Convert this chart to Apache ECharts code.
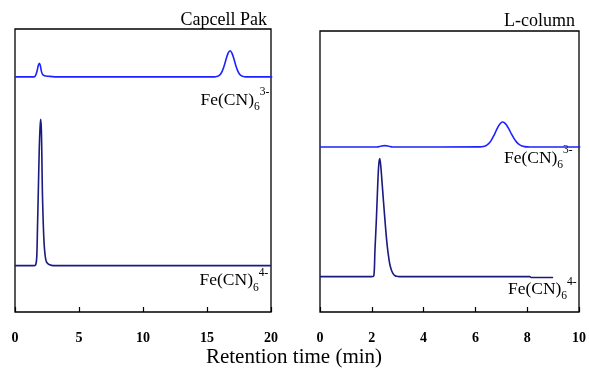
<!DOCTYPE html>
<html>
<head>
<meta charset="utf-8">
<script src="https://cdn.jsdelivr.net/npm/echarts@6/dist/echarts.min.js"></script>
<style>html,body{margin:0;padding:0;background:#fff}#c{width:589px;height:369px}</style>
</head>
<body>
<div id="c"></div>
<script>
// ---- Data (relative detector response, arbitrary units) ----
const panelTitles = ['Capcell Pak', 'L-column'];
const capTicks = [0, 5, 10, 15, 20];
const lcolTicks = [0, 2, 4, 6, 8, 10];
const axisTitle = 'Retention time (min)';
const ionMain = 'Fe(CN)';
const ionSub = '6';
const ionCharges = ['3-', '4-'];

// Capcell Pak, Fe(CN)6 4- (navy)
const capFe4T = [0, 1.5, 1.62, 1.7, 1.76, 1.82, 1.9, 1.96, 2.01, 2.06, 2.1, 2.14, 2.2, 2.26, 2.32, 2.4, 2.5, 2.7, 3, 20];
const capFe4V = [16.4, 16.4, 16.7, 19.4, 30.4, 42.4, 58.4, 65.4, 68.1, 64.4, 54.4, 42.4, 32.4, 25.4, 21.4, 18.6, 17.4, 16.7, 16.4, 16.4];
// Capcell Pak, Fe(CN)6 3- (blue)
const capFe3T = [0, 1.5, 1.6, 1.72, 1.82, 1.9, 1.98, 2.06, 2.16, 2.3, 2.6, 3.1, 15.6, 15.75, 15.9, 16.05, 16.2, 16.35, 16.5, 16.65, 16.8, 16.95, 17.1, 17.25, 17.4, 17.55, 17.7, 17.85, 18.0, 20.1];
const capFe3V = [83.1, 83.1, 83.5, 85.1, 87.1, 87.9, 87.1, 85.1, 83.9, 83.5, 83.3, 83.1, 83.1, 83.2, 83.44, 84.02, 85.21, 87.12, 89.47, 91.49, 92.3, 91.49, 89.47, 87.12, 85.21, 84.02, 83.44, 83.2, 83.1, 83.1];
// L-column, Fe(CN)6 4- (navy)
const lcolFe4T = [0, 2.0, 2.08, 2.12, 2.18, 2.23, 2.27, 2.31, 2.35, 2.4, 2.45, 2.5, 2.55, 2.6, 2.65, 2.7, 2.77, 2.84, 2.9, 2.96, 3.05, 8.1, 8.15, 9.0];
const lcolFe4V = [12.6, 12.6, 12.9, 21.6, 33.6, 45.6, 52.6, 54.6, 51.6, 45.6, 39.5, 33.6, 28.0, 23.2, 19.6, 16.8, 14.6, 13.4, 12.9, 12.7, 12.6, 12.6, 12.3, 12.3];
// L-column, Fe(CN)6 3- (blue)
const lcolFe3T = [0, 2.2, 2.35, 2.5, 2.65, 2.8, 6.2, 6.3, 6.4, 6.5, 6.6, 6.7, 6.8, 6.9, 7.0, 7.05, 7.1, 7.2, 7.3, 7.4, 7.5, 7.6, 7.7, 7.8, 7.9, 8.0, 8.1, 10.05];
const lcolFe3V = [58.7, 58.7, 59.0, 59.2, 59.0, 58.7, 58.76, 58.89, 59.19, 59.82, 60.9, 62.55, 64.5, 66.33, 67.45, 67.6, 67.48, 66.55, 64.99, 63.2, 61.59, 60.36, 59.55, 59.09, 58.86, 58.76, 58.7, 58.7];

const zip = (t, v) => t.map((x, i) => [x, v[i]]);

const SERIF = 'Liberation Serif, Times New Roman, serif';
const BLUE = '#1e22ff';
const NAVY = '#1a1a80';
const MAIN_FS = 17.5, SMALL_FS = 11.5;

const mctx = document.createElement('canvas').getContext('2d');
function tw(t, fs) { mctx.font = fs + 'px ' + SERIF; return mctx.measureText(t).width; }

// ion label: right edge xr, main baseline yb
function ionLabel(charge, xr, yb) {
  const wm = tw(ionMain, MAIN_FS), ws = tw(ionSub, SMALL_FS), wp = tw(charge, SMALL_FS);
  const x0 = xr - (wm + ws + wp);
  const mid = fs => 0.3375 * fs;
  const st = (t, fs) => ({ text: t, fontFamily: SERIF, fontSize: fs, fill: '#000', align: 'left', verticalAlign: 'middle' });
  return {
    type: 'group', children: [
      { type: 'text', x: x0, y: yb - mid(MAIN_FS), style: st(ionMain, MAIN_FS) },
      { type: 'text', x: x0 + wm, y: yb + 5 - mid(SMALL_FS), style: st(ionSub, SMALL_FS) },
      { type: 'text', x: x0 + wm + ws, y: yb - 9.8 - mid(SMALL_FS), style: st(charge, SMALL_FS) }
    ]
  };
}

function xAx(gi, max, interval) {
  return {
    type: 'value', gridIndex: gi, min: 0, max: max, interval: interval,
    axisLine: { show: false },
    axisTick: { show: true, inside: true, length: 5, lineStyle: { color: '#000', width: 1.2 } },
    splitLine: { show: false },
    axisLabel: { color: '#000', fontFamily: SERIF, fontWeight: 'bold', fontSize: 14, margin: 19 }
  };
}
function yAx(gi) {
  return {
    type: 'value', gridIndex: gi, min: 0, max: 100,
    axisLine: { show: false }, axisTick: { show: false }, axisLabel: { show: false }, splitLine: { show: false }
  };
}
function line(gi, data, color) {
  return {
    type: 'line', xAxisIndex: gi, yAxisIndex: gi, data: data, showSymbol: false, symbol: 'none',
    smooth: 0.3, lineStyle: { color: color, width: 1.6 }, animation: false, clip: false
  };
}

const chart = echarts.init(document.getElementById('c'), null, { renderer: 'canvas' });
chart.setOption({
  animation: false,
  backgroundColor: '#fff',
  grid: [
    { left: 15, top: 29, width: 256, height: 283, show: true, borderColor: '#000', borderWidth: 1.3, backgroundColor: 'transparent' },
    { left: 320, top: 31, width: 260, height: 281, show: true, borderColor: '#000', borderWidth: 1.3, backgroundColor: 'transparent' }
  ],
  xAxis: [xAx(0, capTicks[capTicks.length - 1], capTicks[1] - capTicks[0]), xAx(1, lcolTicks[lcolTicks.length - 1], lcolTicks[1] - lcolTicks[0])],
  yAxis: [yAx(0), yAx(1)],
  series: [
    line(0, zip(capFe3T, capFe3V), BLUE),
    line(0, zip(capFe4T, capFe4V), NAVY),
    line(1, zip(lcolFe3T, lcolFe3V), BLUE),
    line(1, zip(lcolFe4T, lcolFe4V), NAVY)
  ],
  graphic: [
    { type: 'text', x: 267, y: 20.5, style: { text: panelTitles[0], align: 'right', verticalAlign: 'middle', fontFamily: SERIF, fontSize: 18, fill: '#000' } },
    { type: 'text', x: 575, y: 21, style: { text: panelTitles[1], align: 'right', verticalAlign: 'middle', fontFamily: SERIF, fontSize: 18, fill: '#000' } },
    { type: 'text', x: 294, y: 357.5, style: { text: axisTitle, align: 'center', verticalAlign: 'middle', fontFamily: SERIF, fontSize: 21, fill: '#000' } },
    ionLabel(ionCharges[0], 269.3, 106),
    ionLabel(ionCharges[1], 268.3, 286.7),
    ionLabel(ionCharges[0], 572.7, 164),
    ionLabel(ionCharges[1], 576.7, 295.3)
  ]
});
</script>
</body>
</html>
